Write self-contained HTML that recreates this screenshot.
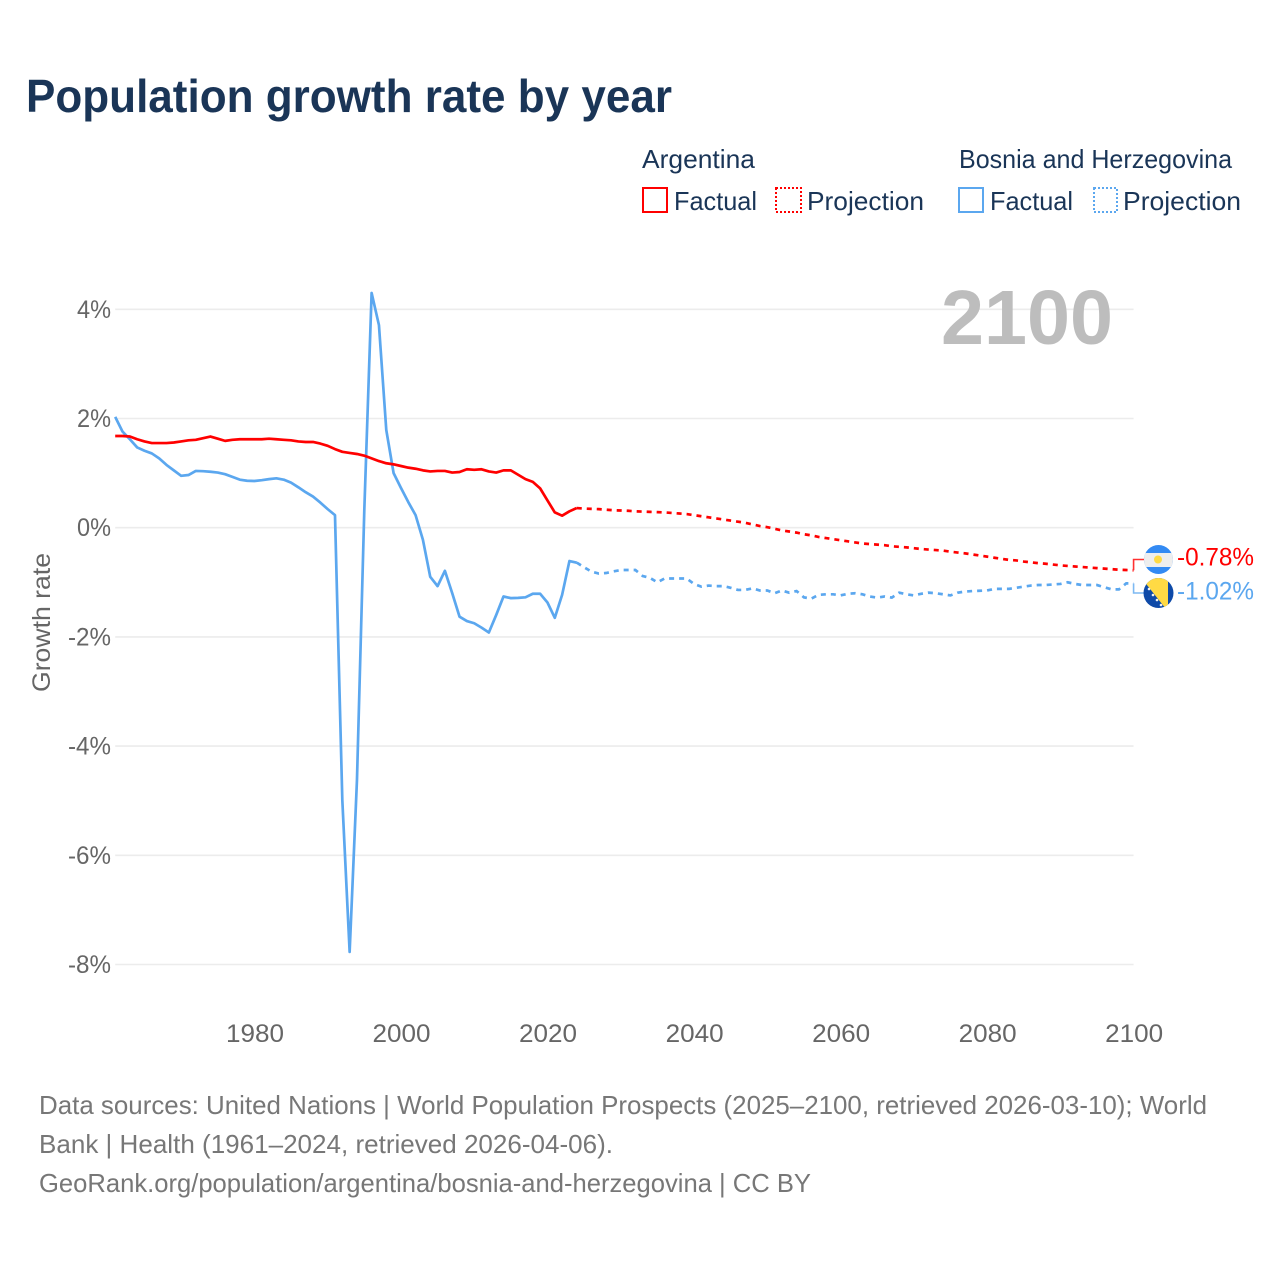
<!DOCTYPE html>
<html lang="en">
<head>
<meta charset="utf-8">
<title>Population growth rate by year</title>
<style>
html,body{margin:0;padding:0;background:#fff;}
svg{display:block;font-family:"Liberation Sans",sans-serif;}
</style>
</head>
<body>
<svg id="chart" width="1280" height="1280" viewBox="0 0 1280 1280" xmlns="http://www.w3.org/2000/svg">
  <rect width="1280" height="1280" fill="#ffffff"/>
  <text x="26" y="112" font-size="46" font-weight="700" fill="#1a3557" textLength="646" lengthAdjust="spacingAndGlyphs">Population growth rate by year</text>

  <g font-size="26" fill="#1a3557">
    <text x="642" y="168" textLength="113" lengthAdjust="spacingAndGlyphs">Argentina</text>
    <text x="959" y="168" textLength="273" lengthAdjust="spacingAndGlyphs">Bosnia and Herzegovina</text>
    <g>
      <rect x="643" y="188" width="24" height="24" fill="none" stroke="#ff0000" stroke-width="2"/>
      <text x="674" y="210" textLength="83" lengthAdjust="spacingAndGlyphs">Factual</text>
    </g>
    <g>
      <rect x="776" y="188" width="25" height="24" fill="none" stroke="#ff0000" stroke-width="2" stroke-dasharray="2 2"/>
      <text x="807" y="210" textLength="117" lengthAdjust="spacingAndGlyphs">Projection</text>
    </g>
    <g>
      <rect x="959" y="188" width="24" height="24" fill="none" stroke="#5ba7ef" stroke-width="2"/>
      <text x="990" y="210" textLength="83" lengthAdjust="spacingAndGlyphs">Factual</text>
    </g>
    <g>
      <rect x="1094" y="188" width="23" height="24" fill="none" stroke="#5ba7ef" stroke-width="2" stroke-dasharray="2 2"/>
      <text x="1123" y="210" textLength="118" lengthAdjust="spacingAndGlyphs">Projection</text>
    </g>
  </g>

  <g id="grid"></g>
  <g id="yticks"></g>
  <g id="xticks"></g>
  <text transform="translate(50,692) rotate(-90)" font-size="25" fill="#666666" textLength="139" lengthAdjust="spacingAndGlyphs">Growth rate</text>
  <text x="941" y="344" font-size="77" font-weight="700" fill="#bdbdbd" textLength="172" lengthAdjust="spacingAndGlyphs">2100</text>

  <g id="series"></g>

  <defs>
    <clipPath id="flag-clip-ar"><circle cx="1158.5" cy="559.5" r="14.5"/></clipPath>
    <clipPath id="flag-clip-ba"><circle cx="1158.5" cy="593" r="15"/></clipPath>
  </defs>
  <g clip-path="url(#flag-clip-ar)">
    <rect x="1143" y="544" width="31" height="31" fill="#338af3"/>
    <rect x="1143" y="553" width="31" height="14" fill="#eeeeee"/>
    <circle cx="1158" cy="559.5" r="4" fill="#ffda44"/>
  </g>
  <g clip-path="url(#flag-clip-ba)">
    <rect x="1143" y="577" width="31" height="33" fill="#0e4aa8"/>
    <polygon points="1143,580 1143,578 1168,577 1168,609 1166,609" fill="#ffda44"/>
    <circle cx="1149" cy="589" r="1.3" fill="#f0f0f0"/>
    <circle cx="1153" cy="595" r="1.3" fill="#f0f0f0"/>
    <circle cx="1157" cy="600" r="1.3" fill="#f0f0f0"/>
    <circle cx="1161" cy="605" r="1.3" fill="#f0f0f0"/>
  </g>
  <text id="end-label-ar" x="1177" y="565.5" font-size="25" fill="#ff0000" textLength="77" lengthAdjust="spacingAndGlyphs"></text>
  <text id="end-label-ba" x="1177" y="599.5" font-size="25" fill="#5ba7ef" textLength="77" lengthAdjust="spacingAndGlyphs"></text>

  <g font-size="26" fill="#777777">
    <text x="39" y="1114" textLength="1168" lengthAdjust="spacingAndGlyphs">Data sources: United Nations | World Population Prospects (2025–2100, retrieved 2026-03-10); World</text>
    <text x="39" y="1153" textLength="574" lengthAdjust="spacingAndGlyphs">Bank | Health (1961–2024, retrieved 2026-04-06).</text>
    <text x="39" y="1192" textLength="772" lengthAdjust="spacingAndGlyphs">GeoRank.org/population/argentina/bosnia-and-herzegovina | CC BY</text>
  </g>
</svg>
<script>
const factualStartYear = 1961;
const projectionStartYear = 2024;
const xTickYears = [1980, 2000, 2020, 2040, 2060, 2080, 2100];
const yTickValues = [4, 2, 0, -2, -4, -6, -8];
const argentinaFactual = [1.68,1.68,1.67,1.62,1.58,1.55,1.55,1.55,1.56,1.58,1.60,1.61,1.64,1.67,1.63,1.59,1.61,1.62,1.62,1.62,1.62,1.63,1.62,1.61,1.60,1.58,1.57,1.57,1.54,1.50,1.44,1.39,1.37,1.35,1.32,1.27,1.22,1.18,1.16,1.13,1.10,1.08,1.05,1.03,1.04,1.04,1.01,1.02,1.07,1.06,1.07,1.03,1.01,1.05,1.05,0.97,0.89,0.84,0.72,0.50,0.28,0.22,0.30,0.36];
const argentinaProjection = [0.36,0.35,0.345,0.34,0.33,0.32,0.315,0.31,0.30,0.295,0.29,0.285,0.28,0.27,0.26,0.25,0.23,0.21,0.19,0.17,0.15,0.13,0.11,0.09,0.06,0.03,0.01,-0.02,-0.05,-0.07,-0.09,-0.12,-0.14,-0.17,-0.19,-0.21,-0.23,-0.25,-0.27,-0.29,-0.30,-0.31,-0.32,-0.34,-0.35,-0.36,-0.375,-0.39,-0.40,-0.41,-0.42,-0.44,-0.455,-0.47,-0.49,-0.51,-0.53,-0.55,-0.57,-0.59,-0.60,-0.62,-0.635,-0.65,-0.66,-0.675,-0.69,-0.70,-0.71,-0.72,-0.73,-0.74,-0.75,-0.76,-0.77,-0.775,-0.78];
const bosniaFactual = [2.03,1.76,1.62,1.47,1.41,1.36,1.27,1.15,1.05,0.95,0.965,1.04,1.035,1.025,1.01,0.98,0.93,0.88,0.86,0.855,0.87,0.89,0.905,0.88,0.825,0.74,0.65,0.57,0.46,0.34,0.23,-4.99,-7.77,-4.62,0.32,4.30,3.71,1.79,1.00,0.73,0.47,0.23,-0.22,-0.90,-1.07,-0.79,-1.20,-1.63,-1.71,-1.75,-1.83,-1.92,-1.60,-1.26,-1.29,-1.285,-1.275,-1.21,-1.21,-1.37,-1.65,-1.23,-0.61,-0.64];
const bosniaProjection = [-0.64,-0.725,-0.805,-0.84,-0.83,-0.80,-0.775,-0.775,-0.775,-0.885,-0.92,-1.00,-0.93,-0.93,-0.93,-0.93,-1.03,-1.08,-1.06,-1.07,-1.07,-1.10,-1.14,-1.14,-1.11,-1.15,-1.15,-1.20,-1.15,-1.19,-1.16,-1.275,-1.30,-1.23,-1.22,-1.22,-1.24,-1.21,-1.20,-1.22,-1.26,-1.28,-1.26,-1.28,-1.19,-1.22,-1.24,-1.21,-1.19,-1.20,-1.22,-1.24,-1.19,-1.17,-1.16,-1.155,-1.15,-1.12,-1.12,-1.12,-1.10,-1.08,-1.06,-1.05,-1.05,-1.04,-1.03,-1.00,-1.03,-1.05,-1.05,-1.05,-1.09,-1.13,-1.13,-1.02,-1.02];
const endLabelYear = 2100;

const SVG_NS = 'http://www.w3.org/2000/svg';
function xScale(year) { return 254.4 + (year - 1980) * 7.3265; }
function yScale(v) { return 527.7 - v * 54.6; }
function pathFrom(start, values) {
  return values.map(function (v, i) {
    return (i ? 'L' : 'M') + xScale(start + i).toFixed(2) + ' ' + yScale(v).toFixed(2);
  }).join(' ');
}
function make(tag, attrs) {
  const el = document.createElementNS(SVG_NS, tag);
  Object.keys(attrs).forEach(function (k) { el.setAttribute(k, attrs[k]); });
  return el;
}
const grid = document.getElementById('grid');
const yticks = document.getElementById('yticks');
const xticks = document.getElementById('xticks');
const series = document.getElementById('series');

yTickValues.forEach(function (v) {
  const line = make('line', {x1: xScale(factualStartYear), x2: xScale(endLabelYear), y1: yScale(v), y2: yScale(v), stroke: '#ececec', 'stroke-width': 1.6});
  
  
  grid.appendChild(line);
  const label = String(v) + '%';
  const t = make('text', {x: 111, y: yScale(v) + 8.5, 'text-anchor': 'end', 'font-size': 25, fill: '#666666', textLength: v < 0 ? 43 : 34, lengthAdjust: 'spacingAndGlyphs'});
  
  
  t.textContent = label;
  yticks.appendChild(t);
});

xTickYears.forEach(function (y) {
  const t = make('text', {x: xScale(y) + 0.6, y: 1042, 'text-anchor': 'middle', 'font-size': 25, fill: '#666666', textLength: 58, lengthAdjust: 'spacingAndGlyphs'});
  
  
  t.textContent = String(y);
  xticks.appendChild(t);
});

const bosniaFactualLine = make('path', {d: pathFrom(factualStartYear, bosniaFactual), fill: 'none', stroke: '#5ba7ef', 'stroke-width': 2.7, 'stroke-linejoin': 'round'});


series.appendChild(bosniaFactualLine);

const bosniaProjectionLine = make('path', {d: pathFrom(projectionStartYear, bosniaProjection), fill: 'none', stroke: '#5ba7ef', 'stroke-width': 2.7, 'stroke-dasharray': '5 5'});


series.appendChild(bosniaProjectionLine);

const argentinaFactualLine = make('path', {d: pathFrom(factualStartYear, argentinaFactual), fill: 'none', stroke: '#ff0000', 'stroke-width': 2.7, 'stroke-linejoin': 'round'});


series.appendChild(argentinaFactualLine);

const argentinaProjectionLine = make('path', {d: pathFrom(projectionStartYear, argentinaProjection), fill: 'none', stroke: '#ff0000', 'stroke-width': 2.7, 'stroke-dasharray': '5 5'});


series.appendChild(argentinaProjectionLine);

const endX = xScale(endLabelYear);
const arEnd = argentinaProjection[argentinaProjection.length - 1];
const baEnd = bosniaProjection[bosniaProjection.length - 1];

const arConnector = make('path', {d: 'M' + endX + ' ' + yScale(arEnd) + ' V559.5 H1144', fill: 'none', stroke: '#ff3030', 'stroke-width': 1.6});


series.appendChild(arConnector);

const baConnector = make('path', {d: 'M' + endX + ' ' + yScale(baEnd) + ' V593 H1144', fill: 'none', stroke: '#7db9f2', 'stroke-width': 1.6});


series.appendChild(baConnector);

document.getElementById('end-label-ar').textContent = arEnd.toFixed(2) + '%';
document.getElementById('end-label-ba').textContent = baEnd.toFixed(2) + '%';
</script>
</body>
</html>
